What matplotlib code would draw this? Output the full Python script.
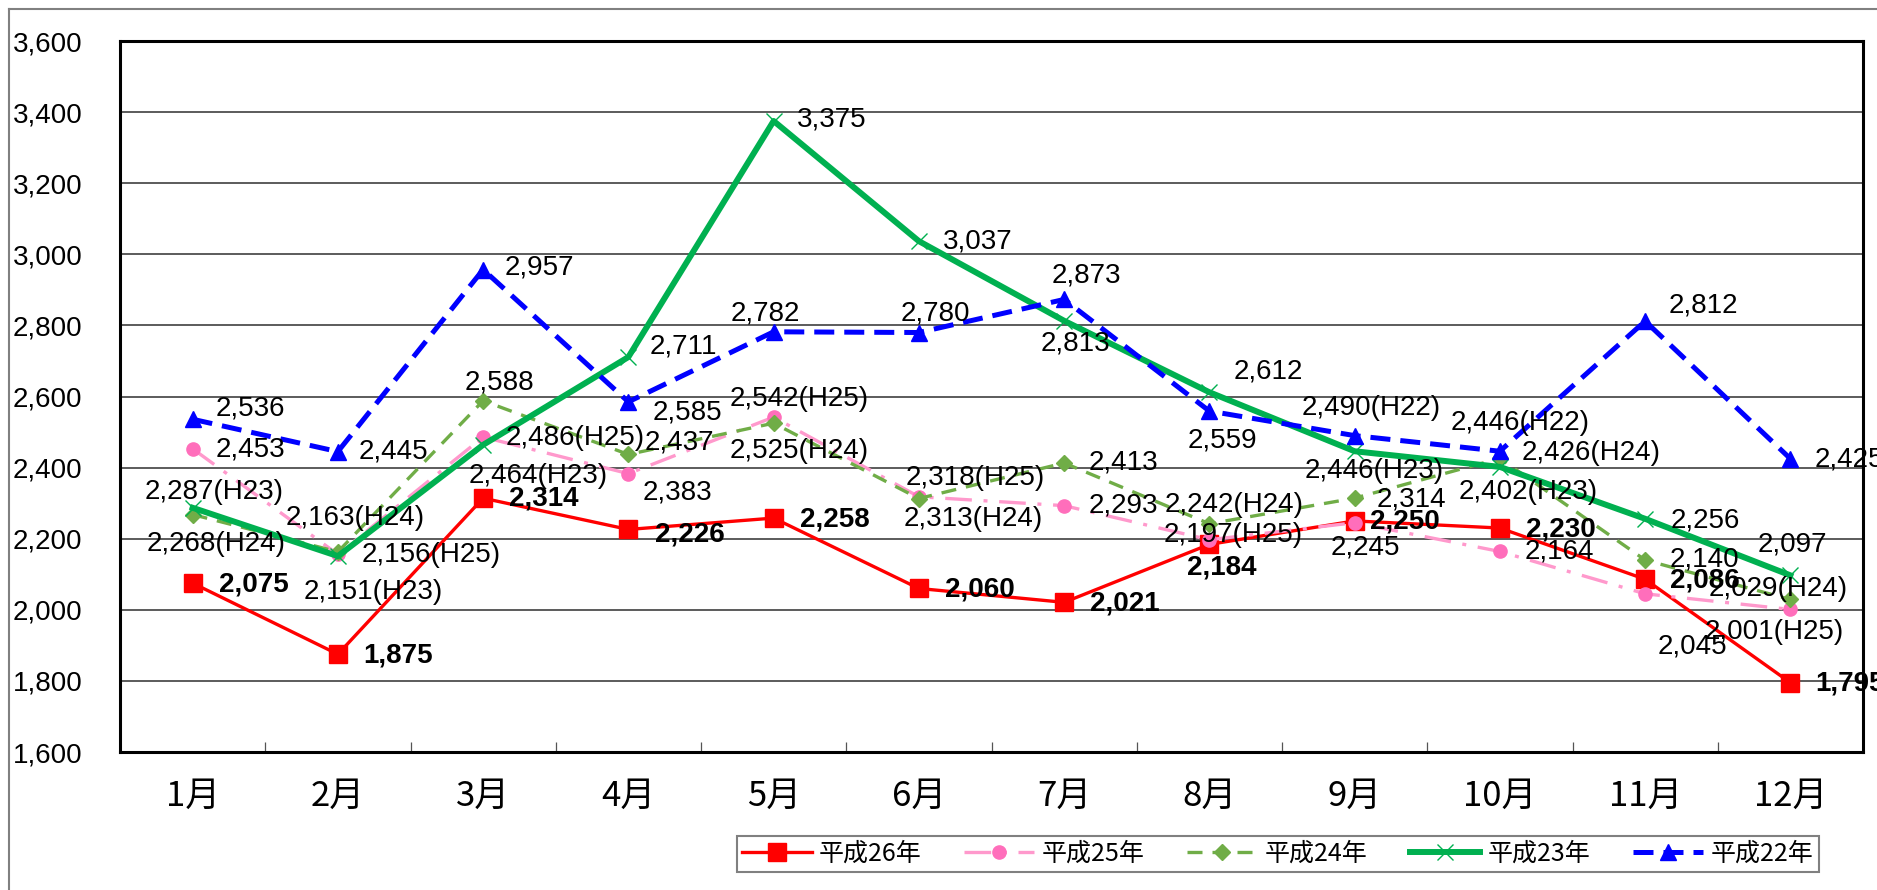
import matplotlib
matplotlib.use('Agg')
import matplotlib.pyplot as plt
from matplotlib import font_manager
from matplotlib.lines import Line2D
from matplotlib.ticker import FuncFormatter


def pick_font(names):
    # first installed family from the list
    for name in names:
        try:
            font_manager.findfont(font_manager.FontProperties(family=name), fallback_to_default=False)
            return name
        except Exception:
            pass
    return 'DejaVu Sans'


LATIN = pick_font(['Liberation Sans', 'Arial', 'DejaVu Sans'])
CJK = pick_font(['Noto Sans CJK JP', 'Noto Sans CJK SC'])
plt.rcParams['font.family'] = [LATIN, CJK, 'DejaVu Sans']

# data
months = ['1月', '2月', '3月', '4月', '5月', '6月', '7月', '8月', '9月', '10月', '11月', '12月']
series_names = ['平成26年', '平成25年', '平成24年', '平成23年', '平成22年']

h26 = [2075, 1875, 2314, 2226, 2258, 2060, 2021, 2184, 2250, 2230, 2086, 1795]
h25 = [2453, 2156, 2486, 2383, 2542, 2318, 2293, 2197, 2245, 2164, 2045, 2001]
h24 = [2268, 2163, 2588, 2437, 2525, 2313, 2413, 2242, 2314, 2426, 2140, 2029]
h23 = [2287, 2151, 2464, 2711, 3375, 3037, 2813, 2612, 2446, 2402, 2256, 2097]
h22 = [2536, 2445, 2957, 2585, 2782, 2780, 2873, 2559, 2490, 2446, 2812, 2425]

# label suffixes as printed on the chart
sfx26 = [''] * 12
sfx25 = ['', '(H25)', '(H25)', '', '(H25)', '(H25)', '', '(H25)', '', '', '', '(H25)']
sfx24 = ['(H24)', '(H24)', '', '', '(H24)', '(H24)', '', '(H24)', '', '(H24)', '', '(H24)']
sfx23 = ['(H23)', '(H23)', '(H23)', '', '', '', '', '', '(H23)', '(H23)', '', '']
sfx22 = ['', '', '', '', '', '', '', '', '(H22)', '(H22)', '', '']

# label offsets in pixels from the point (dx right, dy down), text centred
off26 = [(61, 1), (60, 1), (61, 0), (61, 5), (61, 1), (61, 1), (61, 1), (12, 23), (50, 1), (61, 1), (60, 1), (60, 1)]
off25 = [(58, 1), (93, 1), (92, 1), (49, 19), (26, -18), (56, -19), (59, 0), (24, -5), (11, 25), (59, 0), (47, 53), (-16, 23)]
off24 = [(24, 29), (17, -34), (16, -18), (51, -12), (26, 28), (54, 20), (59, 0), (25, -19), (57, 1), (91, -5), (59, -1), (-12, -10)]
off23 = [(22, -16), (35, 36), (55, 31), (55, -11), (58, -1), (59, 0), (11, 23), (59, -21), (20, 20), (28, 25), (60, 2), (2, -31)]
off22 = [(58, -11), (56, 0), (56, -2), (59, 11), (-8, -18), (16, -19), (22, -24), (13, 29), (17, -28), (20, -28), (58, -16), (59, 1)]

W, H = 1877, 890
fig = plt.figure(figsize=(W / 100, H / 100), dpi=100)
ax = fig.add_axes([120 / W, (H - 752) / H, (1863 - 120) / W, (752 - 41) / H])

x = list(range(1, 13))
styles = [
    dict(color='#FF0000', lw=2.4, ls='-', marker='s', ms=13, mec='#FF0000', mfc='#FF0000'),
    dict(color='#FF99CC', lw=2.4, ls=(0, (8, 3.5, 1.2, 3.5)), marker='o', ms=9.5, mec='#FF6EBB', mfc='#FF6EBB'),
    dict(color='#70AD47', lw=2.4, ls=(0, (4.5, 3)), marker='D', ms=8, mec='#70AD47', mfc='#70AD47'),
    dict(color='#00B050', lw=4.3, ls='-', marker='x', ms=11, mew=1.0, mec='#00B050'),
    dict(color='#0000FF', lw=3.6, ls=(0, (4, 2)), marker='^', ms=12, mec='#0000FF', mfc='#0000FF'),
]
all_vals = [h26, h25, h24, h23, h22]
all_sfx = [sfx26, sfx25, sfx24, sfx23, sfx22]
all_off = [off26, off25, off24, off23, off22]

handles = []
for i, (vals, st) in enumerate(zip(all_vals, styles)):
    ln, = ax.plot(x, vals, zorder=3 + i, label=series_names[i], **st)
    handles.append(ln)

for i, (vals, sfx, offs) in enumerate(zip(all_vals, all_sfx, all_off)):
    bold = (i == 0)
    for xi, v, s, (dx, dy) in zip(x, vals, sfx, offs):
        ax.annotate(f'{v:,}{s}', (xi, v), xytext=(dx, -dy), textcoords='offset pixels',
                    ha='center', va='center', fontsize=20, family=LATIN,
                    fontweight='bold' if bold else 'normal', color='black',
                    zorder=10, annotation_clip=False)

ax.set_xlim(0.5, 12.5)
ax.set_ylim(1600, 3600)
ax.set_yticks(range(1600, 3601, 200))
ax.yaxis.set_major_formatter(FuncFormatter(lambda v, p: f'{int(v):,}'))
ax.tick_params(axis='y', length=0, pad=27, labelsize=20)
ax.set_xticks(x)
ax.set_xticklabels(months, family=CJK, fontsize=25)
ax.tick_params(axis='x', which='major', length=0, pad=19)
ax.set_xticks([k + 0.5 for k in range(1, 12)], minor=True)
ax.tick_params(axis='x', which='minor', direction='in', length=7, width=0.9, color='#555555')

ax.yaxis.grid(True, color='#404040', lw=1.2)
ax.set_axisbelow(True)
for sp in ax.spines.values():
    sp.set_linewidth(2.2)
    sp.set_color('black')

leg = fig.legend(handles=handles, loc='center', ncol=5, mode='expand',
                 bbox_to_anchor=(724 / W, (H - 873) / H, (1831 - 724) / W, 38 / H),
                 prop=font_manager.FontProperties(family=CJK, size=18),
                 frameon=True, fancybox=False, edgecolor='#808080', framealpha=1,
                 handlelength=2.8, handletextpad=0.3, columnspacing=1.8, borderpad=0.2)
leg.get_frame().set_linewidth(1.5)

# outer chart frame (left and top edges show in the picture)
fig.add_artist(Line2D([9 / W, 9 / W], [0, 1 - 9 / H], transform=fig.transFigure, color='#808080', lw=1.5))
fig.add_artist(Line2D([9 / W, 1], [1 - 9 / H, 1 - 9 / H], transform=fig.transFigure, color='#808080', lw=1.5))

fig.savefig('out.png', dpi=100)
